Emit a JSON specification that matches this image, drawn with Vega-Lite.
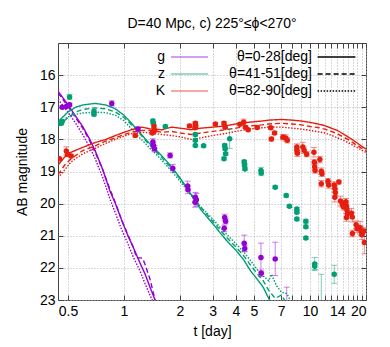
{
"$schema":"https://vega.github.io/schema/vega-lite/v6.json",
"width":308,"height":257,
"autosize":"none",
"padding":{"left":58,"top":43,"right":24,"bottom":47},
"config":{"font":"Liberation Sans","view":{"stroke":"#444","strokeWidth":1}},
"title":{"text":"D=40 Mpc, c) 225°≤ϕ<270°","fontSize":14,"fontWeight":"normal","font":"Liberation Sans","color":"black","anchor":"middle","offset":12},
"datasets":{
"models":[
{"band":"g","theta":"θ=0-28[deg]","t":0.442,"mag":16.5},{"band":"g","theta":"θ=0-28[deg]","t":0.5,"mag":16.92},{"band":"g","theta":"θ=0-28[deg]","t":0.55,"mag":17.28},{"band":"g","theta":"θ=0-28[deg]","t":0.6,"mag":17.6},{"band":"g","theta":"θ=0-28[deg]","t":0.655,"mag":18.0},{"band":"g","theta":"θ=0-28[deg]","t":0.7,"mag":18.35},{"band":"g","theta":"θ=0-28[deg]","t":0.77,"mag":18.95},{"band":"g","theta":"θ=0-28[deg]","t":0.84,"mag":19.6},{"band":"g","theta":"θ=0-28[deg]","t":0.9,"mag":20.0},{"band":"g","theta":"θ=0-28[deg]","t":0.97,"mag":20.5},{"band":"g","theta":"θ=0-28[deg]","t":1.05,"mag":21.0},{"band":"g","theta":"θ=0-28[deg]","t":1.12,"mag":21.35},{"band":"g","theta":"θ=0-28[deg]","t":1.22,"mag":21.85},{"band":"g","theta":"θ=0-28[deg]","t":1.3,"mag":22.2},{"band":"g","theta":"θ=0-28[deg]","t":1.38,"mag":22.6},{"band":"g","theta":"θ=0-28[deg]","t":1.47,"mag":23.0},{"band":"g","theta":"θ=0-28[deg]","t":1.52,"mag":23.2},
{"band":"g","theta":"θ=41-51[deg]","t":0.442,"mag":16.55},{"band":"g","theta":"θ=41-51[deg]","t":0.5,"mag":16.97},{"band":"g","theta":"θ=41-51[deg]","t":0.55,"mag":17.33},{"band":"g","theta":"θ=41-51[deg]","t":0.6,"mag":17.65},{"band":"g","theta":"θ=41-51[deg]","t":0.655,"mag":18.05},{"band":"g","theta":"θ=41-51[deg]","t":0.7,"mag":18.4},{"band":"g","theta":"θ=41-51[deg]","t":0.77,"mag":18.95},{"band":"g","theta":"θ=41-51[deg]","t":0.84,"mag":19.55},{"band":"g","theta":"θ=41-51[deg]","t":0.9,"mag":19.98},{"band":"g","theta":"θ=41-51[deg]","t":0.97,"mag":20.5},{"band":"g","theta":"θ=41-51[deg]","t":1.05,"mag":20.97},{"band":"g","theta":"θ=41-51[deg]","t":1.12,"mag":21.35},{"band":"g","theta":"θ=41-51[deg]","t":1.17,"mag":21.68},{"band":"g","theta":"θ=41-51[deg]","t":1.26,"mag":21.7},{"band":"g","theta":"θ=41-51[deg]","t":1.3,"mag":21.9},{"band":"g","theta":"θ=41-51[deg]","t":1.38,"mag":22.35},{"band":"g","theta":"θ=41-51[deg]","t":1.47,"mag":23.0},{"band":"g","theta":"θ=41-51[deg]","t":1.52,"mag":23.2},
{"band":"g","theta":"θ=82-90[deg]","t":0.442,"mag":16.75},{"band":"g","theta":"θ=82-90[deg]","t":0.5,"mag":17.15},{"band":"g","theta":"θ=82-90[deg]","t":0.55,"mag":17.5},{"band":"g","theta":"θ=82-90[deg]","t":0.6,"mag":17.85},{"band":"g","theta":"θ=82-90[deg]","t":0.655,"mag":18.25},{"band":"g","theta":"θ=82-90[deg]","t":0.7,"mag":18.6},{"band":"g","theta":"θ=82-90[deg]","t":0.77,"mag":19.2},{"band":"g","theta":"θ=82-90[deg]","t":0.84,"mag":19.85},{"band":"g","theta":"θ=82-90[deg]","t":0.9,"mag":20.3},{"band":"g","theta":"θ=82-90[deg]","t":0.97,"mag":20.8},{"band":"g","theta":"θ=82-90[deg]","t":1.05,"mag":21.25},{"band":"g","theta":"θ=82-90[deg]","t":1.12,"mag":21.65},{"band":"g","theta":"θ=82-90[deg]","t":1.22,"mag":22.1},{"band":"g","theta":"θ=82-90[deg]","t":1.3,"mag":22.5},{"band":"g","theta":"θ=82-90[deg]","t":1.38,"mag":22.85},{"band":"g","theta":"θ=82-90[deg]","t":1.42,"mag":23.0},{"band":"g","theta":"θ=82-90[deg]","t":1.47,"mag":23.2},
{"band":"z","theta":"θ=0-28[deg]","t":0.442,"mag":17.45},{"band":"z","theta":"θ=0-28[deg]","t":0.5,"mag":17.15},{"band":"z","theta":"θ=0-28[deg]","t":0.55,"mag":17.0},{"band":"z","theta":"θ=0-28[deg]","t":0.6,"mag":16.93},{"band":"z","theta":"θ=0-28[deg]","t":0.7,"mag":16.88},{"band":"z","theta":"θ=0-28[deg]","t":0.8,"mag":16.93},{"band":"z","theta":"θ=0-28[deg]","t":0.9,"mag":17.05},{"band":"z","theta":"θ=0-28[deg]","t":1.0,"mag":17.25},{"band":"z","theta":"θ=0-28[deg]","t":1.1,"mag":17.5},{"band":"z","theta":"θ=0-28[deg]","t":1.2,"mag":17.75},{"band":"z","theta":"θ=0-28[deg]","t":1.3,"mag":17.98},{"band":"z","theta":"θ=0-28[deg]","t":1.4,"mag":18.18},{"band":"z","theta":"θ=0-28[deg]","t":1.5,"mag":18.35},{"band":"z","theta":"θ=0-28[deg]","t":1.65,"mag":18.6},{"band":"z","theta":"θ=0-28[deg]","t":1.8,"mag":18.85},{"band":"z","theta":"θ=0-28[deg]","t":2.0,"mag":19.2},{"band":"z","theta":"θ=0-28[deg]","t":2.2,"mag":19.55},{"band":"z","theta":"θ=0-28[deg]","t":2.4,"mag":19.9},{"band":"z","theta":"θ=0-28[deg]","t":2.6,"mag":20.2},{"band":"z","theta":"θ=0-28[deg]","t":2.8,"mag":20.42},{"band":"z","theta":"θ=0-28[deg]","t":3.0,"mag":20.62},{"band":"z","theta":"θ=0-28[deg]","t":3.3,"mag":20.92},{"band":"z","theta":"θ=0-28[deg]","t":3.6,"mag":21.18},{"band":"z","theta":"θ=0-28[deg]","t":4.0,"mag":21.45},{"band":"z","theta":"θ=0-28[deg]","t":4.4,"mag":21.75},{"band":"z","theta":"θ=0-28[deg]","t":4.8,"mag":22.1},{"band":"z","theta":"θ=0-28[deg]","t":5.2,"mag":22.35},{"band":"z","theta":"θ=0-28[deg]","t":5.6,"mag":22.6},{"band":"z","theta":"θ=0-28[deg]","t":6.0,"mag":22.95},{"band":"z","theta":"θ=0-28[deg]","t":6.3,"mag":23.15},
{"band":"z","theta":"θ=41-51[deg]","t":0.442,"mag":17.6},{"band":"z","theta":"θ=41-51[deg]","t":0.5,"mag":17.32},{"band":"z","theta":"θ=41-51[deg]","t":0.55,"mag":17.15},{"band":"z","theta":"θ=41-51[deg]","t":0.6,"mag":17.07},{"band":"z","theta":"θ=41-51[deg]","t":0.7,"mag":17.02},{"band":"z","theta":"θ=41-51[deg]","t":0.8,"mag":17.05},{"band":"z","theta":"θ=41-51[deg]","t":0.9,"mag":17.15},{"band":"z","theta":"θ=41-51[deg]","t":1.0,"mag":17.32},{"band":"z","theta":"θ=41-51[deg]","t":1.1,"mag":17.55},{"band":"z","theta":"θ=41-51[deg]","t":1.2,"mag":17.78},{"band":"z","theta":"θ=41-51[deg]","t":1.3,"mag":18.02},{"band":"z","theta":"θ=41-51[deg]","t":1.4,"mag":18.22},{"band":"z","theta":"θ=41-51[deg]","t":1.5,"mag":18.4},{"band":"z","theta":"θ=41-51[deg]","t":1.65,"mag":18.66},{"band":"z","theta":"θ=41-51[deg]","t":1.8,"mag":18.9},{"band":"z","theta":"θ=41-51[deg]","t":2.0,"mag":19.22},{"band":"z","theta":"θ=41-51[deg]","t":2.2,"mag":19.55},{"band":"z","theta":"θ=41-51[deg]","t":2.4,"mag":19.85},{"band":"z","theta":"θ=41-51[deg]","t":2.6,"mag":20.12},{"band":"z","theta":"θ=41-51[deg]","t":2.8,"mag":20.35},{"band":"z","theta":"θ=41-51[deg]","t":3.0,"mag":20.55},{"band":"z","theta":"θ=41-51[deg]","t":3.3,"mag":20.83},{"band":"z","theta":"θ=41-51[deg]","t":3.6,"mag":21.08},{"band":"z","theta":"θ=41-51[deg]","t":4.0,"mag":21.35},{"band":"z","theta":"θ=41-51[deg]","t":4.4,"mag":21.62},{"band":"z","theta":"θ=41-51[deg]","t":4.8,"mag":21.92},{"band":"z","theta":"θ=41-51[deg]","t":5.2,"mag":22.18},{"band":"z","theta":"θ=41-51[deg]","t":5.6,"mag":22.4},{"band":"z","theta":"θ=41-51[deg]","t":6.0,"mag":22.7},{"band":"z","theta":"θ=41-51[deg]","t":6.5,"mag":22.95},{"band":"z","theta":"θ=41-51[deg]","t":7.0,"mag":22.85},{"band":"z","theta":"θ=41-51[deg]","t":7.5,"mag":23.1},
{"band":"z","theta":"θ=82-90[deg]","t":0.442,"mag":17.5},{"band":"z","theta":"θ=82-90[deg]","t":0.5,"mag":17.3},{"band":"z","theta":"θ=82-90[deg]","t":0.55,"mag":17.22},{"band":"z","theta":"θ=82-90[deg]","t":0.6,"mag":17.18},{"band":"z","theta":"θ=82-90[deg]","t":0.7,"mag":17.15},{"band":"z","theta":"θ=82-90[deg]","t":0.8,"mag":17.17},{"band":"z","theta":"θ=82-90[deg]","t":0.9,"mag":17.25},{"band":"z","theta":"θ=82-90[deg]","t":1.0,"mag":17.42},{"band":"z","theta":"θ=82-90[deg]","t":1.1,"mag":17.68},{"band":"z","theta":"θ=82-90[deg]","t":1.2,"mag":17.92},{"band":"z","theta":"θ=82-90[deg]","t":1.3,"mag":18.12},{"band":"z","theta":"θ=82-90[deg]","t":1.4,"mag":18.32},{"band":"z","theta":"θ=82-90[deg]","t":1.5,"mag":18.48},{"band":"z","theta":"θ=82-90[deg]","t":1.65,"mag":18.74},{"band":"z","theta":"θ=82-90[deg]","t":1.8,"mag":18.98},{"band":"z","theta":"θ=82-90[deg]","t":2.0,"mag":19.3},{"band":"z","theta":"θ=82-90[deg]","t":2.2,"mag":19.6},{"band":"z","theta":"θ=82-90[deg]","t":2.4,"mag":19.88},{"band":"z","theta":"θ=82-90[deg]","t":2.6,"mag":20.12},{"band":"z","theta":"θ=82-90[deg]","t":2.8,"mag":20.3},{"band":"z","theta":"θ=82-90[deg]","t":3.0,"mag":20.48},{"band":"z","theta":"θ=82-90[deg]","t":3.3,"mag":20.75},{"band":"z","theta":"θ=82-90[deg]","t":3.6,"mag":20.98},{"band":"z","theta":"θ=82-90[deg]","t":4.0,"mag":21.25},{"band":"z","theta":"θ=82-90[deg]","t":4.4,"mag":21.5},{"band":"z","theta":"θ=82-90[deg]","t":4.8,"mag":21.78},{"band":"z","theta":"θ=82-90[deg]","t":5.2,"mag":22.05},{"band":"z","theta":"θ=82-90[deg]","t":5.6,"mag":22.25},{"band":"z","theta":"θ=82-90[deg]","t":6.0,"mag":22.4},{"band":"z","theta":"θ=82-90[deg]","t":6.2,"mag":22.2},{"band":"z","theta":"θ=82-90[deg]","t":6.6,"mag":22.55},{"band":"z","theta":"θ=82-90[deg]","t":7.0,"mag":22.75},{"band":"z","theta":"θ=82-90[deg]","t":7.5,"mag":22.8},{"band":"z","theta":"θ=82-90[deg]","t":8.0,"mag":23.1},
{"band":"K","theta":"θ=0-28[deg]","t":0.442,"mag":18.8},{"band":"K","theta":"θ=0-28[deg]","t":0.48,"mag":18.55},{"band":"K","theta":"θ=0-28[deg]","t":0.52,"mag":18.4},{"band":"K","theta":"θ=0-28[deg]","t":0.6,"mag":18.25},{"band":"K","theta":"θ=0-28[deg]","t":0.7,"mag":18.1},{"band":"K","theta":"θ=0-28[deg]","t":0.8,"mag":18.0},{"band":"K","theta":"θ=0-28[deg]","t":0.9,"mag":17.88},{"band":"K","theta":"θ=0-28[deg]","t":1.0,"mag":17.78},{"band":"K","theta":"θ=0-28[deg]","t":1.1,"mag":17.7},{"band":"K","theta":"θ=0-28[deg]","t":1.25,"mag":17.62},{"band":"K","theta":"θ=0-28[deg]","t":1.4,"mag":17.68},{"band":"K","theta":"θ=0-28[deg]","t":1.6,"mag":17.7},{"band":"K","theta":"θ=0-28[deg]","t":1.8,"mag":17.62},{"band":"K","theta":"θ=0-28[deg]","t":2.0,"mag":17.65},{"band":"K","theta":"θ=0-28[deg]","t":2.3,"mag":17.7},{"band":"K","theta":"θ=0-28[deg]","t":2.6,"mag":17.65},{"band":"K","theta":"θ=0-28[deg]","t":3.0,"mag":17.62},{"band":"K","theta":"θ=0-28[deg]","t":3.5,"mag":17.58},{"band":"K","theta":"θ=0-28[deg]","t":4.0,"mag":17.52},{"band":"K","theta":"θ=0-28[deg]","t":4.5,"mag":17.48},{"band":"K","theta":"θ=0-28[deg]","t":5.0,"mag":17.45},{"band":"K","theta":"θ=0-28[deg]","t":5.5,"mag":17.43},{"band":"K","theta":"θ=0-28[deg]","t":6.0,"mag":17.4},{"band":"K","theta":"θ=0-28[deg]","t":7.0,"mag":17.38},{"band":"K","theta":"θ=0-28[deg]","t":8.0,"mag":17.4},{"band":"K","theta":"θ=0-28[deg]","t":9.0,"mag":17.43},{"band":"K","theta":"θ=0-28[deg]","t":10.0,"mag":17.47},{"band":"K","theta":"θ=0-28[deg]","t":11.0,"mag":17.52},{"band":"K","theta":"θ=0-28[deg]","t":12.0,"mag":17.57},{"band":"K","theta":"θ=0-28[deg]","t":13.0,"mag":17.65},{"band":"K","theta":"θ=0-28[deg]","t":14.0,"mag":17.72},{"band":"K","theta":"θ=0-28[deg]","t":15.0,"mag":17.82},{"band":"K","theta":"θ=0-28[deg]","t":16.0,"mag":17.92},{"band":"K","theta":"θ=0-28[deg]","t":17.0,"mag":18.02},{"band":"K","theta":"θ=0-28[deg]","t":18.0,"mag":18.12},{"band":"K","theta":"θ=0-28[deg]","t":19.0,"mag":18.22},{"band":"K","theta":"θ=0-28[deg]","t":20.0,"mag":18.3},
{"band":"K","theta":"θ=41-51[deg]","t":0.442,"mag":19.1},{"band":"K","theta":"θ=41-51[deg]","t":0.48,"mag":18.8},{"band":"K","theta":"θ=41-51[deg]","t":0.52,"mag":18.6},{"band":"K","theta":"θ=41-51[deg]","t":0.6,"mag":18.35},{"band":"K","theta":"θ=41-51[deg]","t":0.7,"mag":18.2},{"band":"K","theta":"θ=41-51[deg]","t":0.8,"mag":18.05},{"band":"K","theta":"θ=41-51[deg]","t":0.9,"mag":17.95},{"band":"K","theta":"θ=41-51[deg]","t":1.0,"mag":17.85},{"band":"K","theta":"θ=41-51[deg]","t":1.1,"mag":17.78},{"band":"K","theta":"θ=41-51[deg]","t":1.25,"mag":17.72},{"band":"K","theta":"θ=41-51[deg]","t":1.4,"mag":17.72},{"band":"K","theta":"θ=41-51[deg]","t":1.6,"mag":17.78},{"band":"K","theta":"θ=41-51[deg]","t":1.8,"mag":17.75},{"band":"K","theta":"θ=41-51[deg]","t":2.0,"mag":17.8},{"band":"K","theta":"θ=41-51[deg]","t":2.3,"mag":17.85},{"band":"K","theta":"θ=41-51[deg]","t":2.6,"mag":17.8},{"band":"K","theta":"θ=41-51[deg]","t":3.0,"mag":17.75},{"band":"K","theta":"θ=41-51[deg]","t":3.5,"mag":17.7},{"band":"K","theta":"θ=41-51[deg]","t":4.0,"mag":17.65},{"band":"K","theta":"θ=41-51[deg]","t":4.5,"mag":17.6},{"band":"K","theta":"θ=41-51[deg]","t":5.0,"mag":17.57},{"band":"K","theta":"θ=41-51[deg]","t":5.5,"mag":17.55},{"band":"K","theta":"θ=41-51[deg]","t":6.0,"mag":17.52},{"band":"K","theta":"θ=41-51[deg]","t":7.0,"mag":17.5},{"band":"K","theta":"θ=41-51[deg]","t":8.0,"mag":17.52},{"band":"K","theta":"θ=41-51[deg]","t":9.0,"mag":17.55},{"band":"K","theta":"θ=41-51[deg]","t":10.0,"mag":17.6},{"band":"K","theta":"θ=41-51[deg]","t":11.0,"mag":17.63},{"band":"K","theta":"θ=41-51[deg]","t":12.0,"mag":17.68},{"band":"K","theta":"θ=41-51[deg]","t":13.0,"mag":17.75},{"band":"K","theta":"θ=41-51[deg]","t":14.0,"mag":17.82},{"band":"K","theta":"θ=41-51[deg]","t":15.0,"mag":17.92},{"band":"K","theta":"θ=41-51[deg]","t":16.0,"mag":18.0},{"band":"K","theta":"θ=41-51[deg]","t":17.0,"mag":18.1},{"band":"K","theta":"θ=41-51[deg]","t":18.0,"mag":18.2},{"band":"K","theta":"θ=41-51[deg]","t":19.0,"mag":18.28},{"band":"K","theta":"θ=41-51[deg]","t":20.0,"mag":18.35},
{"band":"K","theta":"θ=82-90[deg]","t":0.442,"mag":19.2},{"band":"K","theta":"θ=82-90[deg]","t":0.48,"mag":18.95},{"band":"K","theta":"θ=82-90[deg]","t":0.52,"mag":18.7},{"band":"K","theta":"θ=82-90[deg]","t":0.6,"mag":18.45},{"band":"K","theta":"θ=82-90[deg]","t":0.7,"mag":18.28},{"band":"K","theta":"θ=82-90[deg]","t":0.8,"mag":18.12},{"band":"K","theta":"θ=82-90[deg]","t":0.9,"mag":18.0},{"band":"K","theta":"θ=82-90[deg]","t":1.0,"mag":17.9},{"band":"K","theta":"θ=82-90[deg]","t":1.1,"mag":17.82},{"band":"K","theta":"θ=82-90[deg]","t":1.25,"mag":17.78},{"band":"K","theta":"θ=82-90[deg]","t":1.4,"mag":17.8},{"band":"K","theta":"θ=82-90[deg]","t":1.6,"mag":17.85},{"band":"K","theta":"θ=82-90[deg]","t":1.8,"mag":17.88},{"band":"K","theta":"θ=82-90[deg]","t":2.0,"mag":17.92},{"band":"K","theta":"θ=82-90[deg]","t":2.3,"mag":18.0},{"band":"K","theta":"θ=82-90[deg]","t":2.6,"mag":17.95},{"band":"K","theta":"θ=82-90[deg]","t":3.0,"mag":17.88},{"band":"K","theta":"θ=82-90[deg]","t":3.5,"mag":17.82},{"band":"K","theta":"θ=82-90[deg]","t":4.0,"mag":17.75},{"band":"K","theta":"θ=82-90[deg]","t":4.5,"mag":17.7},{"band":"K","theta":"θ=82-90[deg]","t":5.0,"mag":17.66},{"band":"K","theta":"θ=82-90[deg]","t":5.5,"mag":17.64},{"band":"K","theta":"θ=82-90[deg]","t":6.0,"mag":17.62},{"band":"K","theta":"θ=82-90[deg]","t":7.0,"mag":17.62},{"band":"K","theta":"θ=82-90[deg]","t":8.0,"mag":17.65},{"band":"K","theta":"θ=82-90[deg]","t":9.0,"mag":17.68},{"band":"K","theta":"θ=82-90[deg]","t":10.0,"mag":17.72},{"band":"K","theta":"θ=82-90[deg]","t":11.0,"mag":17.76},{"band":"K","theta":"θ=82-90[deg]","t":12.0,"mag":17.8},{"band":"K","theta":"θ=82-90[deg]","t":13.0,"mag":17.87},{"band":"K","theta":"θ=82-90[deg]","t":14.0,"mag":17.95},{"band":"K","theta":"θ=82-90[deg]","t":15.0,"mag":18.02},{"band":"K","theta":"θ=82-90[deg]","t":16.0,"mag":18.1},{"band":"K","theta":"θ=82-90[deg]","t":17.0,"mag":18.18},{"band":"K","theta":"θ=82-90[deg]","t":18.0,"mag":18.26},{"band":"K","theta":"θ=82-90[deg]","t":19.0,"mag":18.34},{"band":"K","theta":"θ=82-90[deg]","t":20.0,"mag":18.4}
],
"obs":[
{"band":"g","t":0.466,"mag":17.0,"err":0.05},{"band":"g","t":0.49,"mag":16.98,"err":0},{"band":"g","t":0.51,"mag":16.92,"err":0.05},{"band":"g","t":0.86,"mag":16.88,"err":0.08},{"band":"g","t":1.19,"mag":17.68,"err":0.07},{"band":"g","t":1.43,"mag":18.08,"err":0.1},{"band":"g","t":1.44,"mag":18.19,"err":0.1},{"band":"g","t":1.46,"mag":18.29,"err":0.1},{"band":"g","t":1.77,"mag":18.5,"err":0.08},{"band":"g","t":1.83,"mag":18.9,"err":0.12},{"band":"g","t":2.2,"mag":19.45,"err":0.15},{"band":"g","t":2.21,"mag":19.57,"err":0.12},{"band":"g","t":2.42,"mag":19.8,"err":0.15},{"band":"g","t":2.45,"mag":19.88,"err":0.2},{"band":"g","t":2.41,"mag":19.96,"err":0.15},{"band":"g","t":3.48,"mag":20.43,"err":0.1},{"band":"g","t":3.52,"mag":20.55,"err":0.08},{"band":"g","t":3.46,"mag":20.77,"err":0.1},{"band":"g","t":4.43,"mag":21.23,"err":0.25},{"band":"g","t":4.46,"mag":21.4,"err":0.1},{"band":"g","t":5.45,"mag":21.68,"err":0.45},{"band":"g","t":5.47,"mag":22.17,"err":0.1},{"band":"g","t":6.5,"mag":21.72,"err":0.52},{"band":"g","t":7.5,"mag":23.2,"err":0.6},
{"band":"z","t":0.51,"mag":16.68,"err":0.08},{"band":"z","t":0.46,"mag":17.5,"err":0.05},{"band":"z","t":0.465,"mag":17.45,"err":0},{"band":"z","t":0.69,"mag":17.13,"err":0.05},{"band":"z","t":0.69,"mag":17.22,"err":0.05},{"band":"z","t":1.43,"mag":17.43,"err":0.06},{"band":"z","t":1.44,"mag":17.5,"err":0.05},{"band":"z","t":1.67,"mag":17.6,"err":0.04},{"band":"z","t":2.42,"mag":17.85,"err":0.05},{"band":"z","t":2.42,"mag":18.03,"err":0.04},{"band":"z","t":2.42,"mag":18.19,"err":0.04},{"band":"z","t":2.68,"mag":18.2,"err":0.04},{"band":"z","t":3.7,"mag":17.98,"err":0.3},{"band":"z","t":3.48,"mag":18.19,"err":0.05},{"band":"z","t":3.5,"mag":18.29,"err":0.04},{"band":"z","t":3.52,"mag":18.45,"err":0.04},{"band":"z","t":3.45,"mag":18.6,"err":0.04},{"band":"z","t":4.43,"mag":18.7,"err":0.05},{"band":"z","t":4.45,"mag":18.8,"err":0.04},{"band":"z","t":4.47,"mag":18.92,"err":0.04},{"band":"z","t":5.45,"mag":18.97,"err":0.1},{"band":"z","t":5.47,"mag":19.05,"err":0.08},{"band":"z","t":6.5,"mag":19.49,"err":0.04},{"band":"z","t":7.45,"mag":19.75,"err":0.05},{"band":"z","t":7.75,"mag":20.08,"err":0.04},{"band":"z","t":8.5,"mag":20.17,"err":0.05},{"band":"z","t":8.5,"mag":20.27,"err":0.04},{"band":"z","t":8.5,"mag":20.48,"err":0.05},{"band":"z","t":9.5,"mag":20.55,"err":0.06},{"band":"z","t":9.5,"mag":20.72,"err":0.05},{"band":"z","t":9.5,"mag":21.07,"err":0.04},{"band":"z","t":10.6,"mag":21.88,"err":0.2},{"band":"z","t":10.6,"mag":21.95,"err":0.1},{"band":"z","t":11.5,"mag":23.6,"err":1.4},{"band":"z","t":13.5,"mag":22.2,"err":0.28},
{"band":"K","t":0.45,"mag":18.6,"err":0.04},{"band":"K","t":0.49,"mag":18.36,"err":0.13},{"band":"K","t":0.497,"mag":18.46,"err":0.05},{"band":"K","t":0.52,"mag":18.52,"err":0.05},{"band":"K","t":1.15,"mag":17.88,"err":0.05},{"band":"K","t":1.42,"mag":17.8,"err":0.05},{"band":"K","t":1.45,"mag":17.6,"err":0.05},{"band":"K","t":1.46,"mag":17.72,"err":0.05},{"band":"K","t":2.25,"mag":17.58,"err":0.05},{"band":"K","t":2.42,"mag":17.5,"err":0.05},{"band":"K","t":2.43,"mag":17.6,"err":0.05},{"band":"K","t":2.41,"mag":17.64,"err":0.04},{"band":"K","t":3.1,"mag":17.52,"err":0.04},{"band":"K","t":3.45,"mag":17.5,"err":0.05},{"band":"K","t":3.5,"mag":17.62,"err":0.04},{"band":"K","t":4.2,"mag":17.53,"err":0.04},{"band":"K","t":4.4,"mag":17.47,"err":0.1},{"band":"K","t":4.5,"mag":17.62,"err":0.04},{"band":"K","t":4.65,"mag":17.7,"err":0.04},{"band":"K","t":5.2,"mag":17.63,"err":0.04},{"band":"K","t":6.15,"mag":17.64,"err":0.05},{"band":"K","t":6.2,"mag":17.99,"err":0.06},{"band":"K","t":6.45,"mag":17.8,"err":0.05},{"band":"K","t":7.15,"mag":17.93,"err":0.08},{"band":"K","t":7.4,"mag":17.96,"err":0.1},{"band":"K","t":7.55,"mag":18.03,"err":0.08},{"band":"K","t":8.5,"mag":18.24,"err":0.1},{"band":"K","t":8.5,"mag":18.34,"err":0.08},{"band":"K","t":8.55,"mag":18.43,"err":0.1},{"band":"K","t":9.15,"mag":18.24,"err":0.15},{"band":"K","t":9.3,"mag":18.34,"err":0.1},{"band":"K","t":9.6,"mag":18.46,"err":0.08},{"band":"K","t":10.5,"mag":18.4,"err":0.15},{"band":"K","t":10.55,"mag":18.71,"err":0.08},{"band":"K","t":10.6,"mag":18.85,"err":0.1},{"band":"K","t":10.65,"mag":18.97,"err":0.08},{"band":"K","t":11.3,"mag":18.63,"err":0.1},{"band":"K","t":11.5,"mag":18.99,"err":0.1},{"band":"K","t":11.6,"mag":19.07,"err":0.08},{"band":"K","t":11.5,"mag":19.38,"err":0.1},{"band":"K","t":12.5,"mag":19.3,"err":0.08},{"band":"K","t":12.6,"mag":19.42,"err":0.1},{"band":"K","t":13.5,"mag":19.42,"err":0.1},{"band":"K","t":13.6,"mag":19.53,"err":0.1},{"band":"K","t":13.7,"mag":19.65,"err":0.1},{"band":"K","t":13.6,"mag":19.8,"err":0.15},{"band":"K","t":14.3,"mag":19.33,"err":0.06},{"band":"K","t":14.6,"mag":19.92,"err":0.15},{"band":"K","t":14.9,"mag":20.0,"err":0.1},{"band":"K","t":15.1,"mag":20.1,"err":0.1},{"band":"K","t":15.6,"mag":19.94,"err":0.1},{"band":"K","t":15.7,"mag":20.08,"err":0.1},{"band":"K","t":15.8,"mag":20.2,"err":0.1},{"band":"K","t":15.9,"mag":20.32,"err":0.1},{"band":"K","t":15.7,"mag":20.43,"err":0.12},{"band":"K","t":16.7,"mag":20.3,"err":0.15},{"band":"K","t":16.9,"mag":20.42,"err":0.15},{"band":"K","t":16.9,"mag":20.93,"err":0.1},{"band":"K","t":17.7,"mag":20.66,"err":0.12},{"band":"K","t":17.9,"mag":20.78,"err":0.12},{"band":"K","t":18.6,"mag":20.75,"err":0.2},{"band":"K","t":18.8,"mag":20.85,"err":0.15},{"band":"K","t":19.0,"mag":20.97,"err":0.15},{"band":"K","t":19.5,"mag":20.85,"err":0.1},{"band":"K","t":19.6,"mag":21.21,"err":0.35}
]},
"layer":[
{"data":{"name":"models"},
 "mark":{"type":"line","strokeWidth":1.4,"clip":true},
 "encoding":{
  "x":{"field":"t","type":"quantitative","scale":{"type":"log","domain":[0.442,20],"nice":false},
   "axis":{"orient":"bottom","title":"t [day]","values":[0.5,1,2,3,4,5,6,7,8,9,10,11,12,13,14,15,16,17,18,19,20],"format":"~g","labelExpr":"indexof([0.5,1,2,3,4,5,7,10,14,20], datum.value) >= 0 ? datum.label : ''","labelOverlap":false,"labelFontSize":14,"labelColor":"black","titleFontSize":14,"titleFontWeight":"normal","titleColor":"black","tickSize":-5,"tickColor":"#444","labelPadding":9,"titlePadding":6,"domain":false,"grid":true,"gridDash":[1,2],"gridColor":"#b0b0b0"}},
  "y":{"field":"mag","type":"quantitative","scale":{"domain":[15,23],"reverse":true,"nice":false,"zero":false},
   "axis":{"orient":"left","title":"AB magnitude","values":[16,17,18,19,20,21,22,23],"labelFontSize":14,"labelColor":"black","titleFontSize":14,"titleFontWeight":"normal","titleColor":"black","tickSize":-5,"tickColor":"#444","labelPadding":8,"titlePadding":10,"domain":false,"grid":true,"gridDash":[1,2],"gridColor":"#b0b0b0"}},
  "color":{"field":"band","type":"nominal","scale":{"domain":["g","z","K"],"range":["#9400d3","#009e73","#e51e10"]},
   "legend":{"orient":"none","legendX":121.5,"legendY":4,"title":null,"symbolType":"M-2.06,0H2.06","symbolSize":324,"symbolStrokeWidth":1.5,"labelAlign":"right","labelOffset":-34.5,"labelFontSize":14,"labelColor":"black","rowPadding":0,"padding":0}},
  "strokeDash":{"field":"theta","type":"nominal","scale":{"domain":["θ=0-28[deg]","θ=41-51[deg]","θ=82-90[deg]"],"range":[[1,0],[5,3],[1.5,1.5]]},
   "legend":{"orient":"none","legendX":268.5,"legendY":4,"title":null,"symbolType":"M-2.1,0H2.1","symbolSize":324,"symbolStrokeColor":"black","symbolStrokeWidth":1.3,"labelAlign":"right","labelOffset":-34.5,"labelFontSize":14,"labelColor":"black","rowPadding":0,"padding":0}}
 }},
{"data":{"name":"obs"},
 "transform":[{"filter":"datum.err > 0"}],
 "mark":{"type":"errorbar","ticks":{"size":6},"opacity":0.5,"clip":true},
 "encoding":{
  "x":{"field":"t","type":"quantitative","scale":{"type":"log","domain":[0.442,20],"nice":false},"axis":null},
  "y":{"field":"mag","type":"quantitative","scale":{"domain":[15,23],"reverse":true,"nice":false,"zero":false},"axis":null},
  "yError":{"field":"err"},
  "color":{"field":"band","type":"nominal","scale":{"domain":["g","z","K"],"range":["#9400d3","#009e73","#e51e10"]}}
 }},
{"data":{"name":"obs"},
 "mark":{"type":"point","filled":true,"opacity":1,"size":30,"clip":true},
 "encoding":{
  "x":{"field":"t","type":"quantitative","scale":{"type":"log","domain":[0.442,20],"nice":false},
   "axis":{"orient":"top","title":null,"labels":false,"values":[0.5,1,2,3,4,5,6,7,8,9,10,11,12,13,14,15,16,17,18,19,20],"tickSize":-5,"tickColor":"#444","domain":false,"grid":false}},
  "y":{"field":"mag","type":"quantitative","scale":{"domain":[15,23],"reverse":true,"nice":false,"zero":false},
   "axis":{"orient":"right","title":null,"labels":false,"values":[16,17,18,19,20,21,22,23],"tickSize":-5,"tickColor":"#444","domain":false,"grid":false}},
  "color":{"field":"band","type":"nominal","scale":{"domain":["g","z","K"],"range":["#9400d3","#009e73","#e51e10"]}}
 }}
],
"resolve":{"axis":{"x":"independent","y":"independent"}}
}
